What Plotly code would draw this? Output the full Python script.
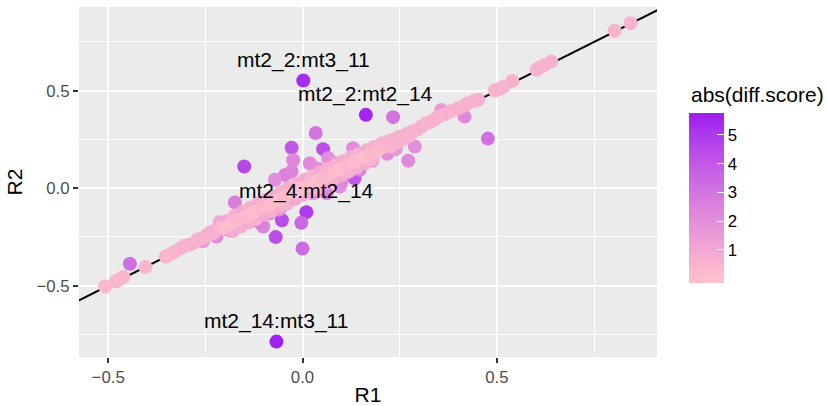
import numpy as np
import plotly.graph_objects as go

# ---------------- data ----------------
# strongly / moderately off-diagonal points (purple)
off_r1 = [0.002, 0.163, -0.067, 0.010, -0.150, -0.444, 0.034, -0.028,
          0.053, -0.003, -0.069, -0.053, 0.000, 0.477, 0.134, 0.233]
off_r2 = [0.552, 0.376, -0.787, -0.123, 0.111, -0.388, 0.283, 0.207,
          0.200, -0.178, -0.251, -0.165, -0.310, 0.254, 0.051, 0.364]
off_score = [5.3, 5.5, 5.6, 5.0, 4.5, 3.2, 3.0, 4.0,
             4.3, 3.5, 4.3, 4.4, 3.3, 3.1, 4.0, 3.0]

# light purple halo around the diagonal band
halo_r1 = [0.417, 0.357, 0.272, 0.289, 0.218, 0.130, 0.173, 0.147,
           0.066, 0.019, -0.024, -0.045, -0.028, -0.071, -0.174, -0.127,
           -0.101, -0.136, 0.027, 0.062, 0.096, -0.221, -0.256, -0.110,
           -0.085, -0.160, -0.190, 0.100, 0.080, 0.040, -0.060, 0.180,
           0.240, -0.040, 0.113]
halo_r2 = [0.367, 0.401, 0.141, 0.213, 0.176, 0.205, 0.196, 0.094,
           0.154, 0.128, 0.143, 0.068, 0.085, 0.043, -0.073, -0.163,
           -0.197, -0.111, -0.026, -0.026, 0.008, -0.248, -0.272, -0.175,
           -0.130, -0.190, -0.215, 0.030, 0.130, 0.100, -0.110, 0.140,
           0.200, -0.080, 0.077]
halo_score = [2.2, 1.6, 2.2, 2.0, 2.1, 2.0, 1.4, 2.5,
              2.0, 2.1, 2.3, 2.5, 2.4, 2.0, 2.6, 2.0,
              2.4, 1.8, 2.0, 2.4, 2.0, 2.0, 1.5, 2.6,
              2.0, 1.8, 1.7, 2.2, 1.8, 1.9, 1.9, 1.8,
              1.6, 1.6, 2.0]

# outer rows of the pink band
edge_r1 = [-0.195, -0.175, -0.155, -0.135, -0.115, -0.095, -0.075, -0.055,
           -0.035, -0.015, 0.005, 0.025, 0.045, 0.065, 0.085, 0.105,
           0.125, 0.145, 0.165, 0.185, 0.205,
           -0.180, -0.160, -0.140, -0.120, -0.100, -0.080, -0.060, -0.040,
           -0.020, 0.000, 0.020, 0.040, 0.060, 0.080, 0.100, 0.120,
           0.140, 0.160, 0.180]
edge_r2 = [-0.170, -0.142, -0.122, -0.100, -0.080, -0.060, -0.040, -0.018,
           0.002, 0.022, 0.042, 0.060, 0.080, 0.100, 0.118, 0.138,
           0.158, 0.175, 0.193, 0.212, 0.230,
           -0.220, -0.198, -0.178, -0.158, -0.138, -0.116, -0.096, -0.076,
           -0.056, -0.036, -0.014, 0.004, 0.026, 0.046, 0.066, 0.086,
           0.106, 0.128, 0.148]
edge_score = [0.8, 0.7, 0.9, 0.6, 0.8, 0.7, 0.9, 0.6,
              0.8, 0.7, 0.9, 0.6, 0.8, 0.7, 0.6, 0.8,
              0.7, 0.6, 0.8, 0.7, 0.6,
              0.9, 0.7, 0.8, 0.6, 0.9, 0.7, 0.8, 0.6,
              0.9, 0.7, 0.8, 0.6, 0.9, 0.7, 0.8, 0.6,
              0.7, 0.8, 0.6]

# pink points on the diagonal
diag_r1 = [-0.508, -0.480, -0.472, -0.461, -0.404, -0.352, -0.338, -0.328,
           -0.312, -0.303, -0.290, -0.281, -0.270, -0.260, -0.248, -0.238,
           -0.230, -0.222, -0.213, -0.212,
           -0.205, -0.185, -0.165, -0.145, -0.125, -0.105, -0.085, -0.065,
           -0.045, -0.025, -0.005, 0.015, 0.035, 0.055, 0.075, 0.095,
           0.115, 0.135, 0.155, 0.175, 0.195, 0.215,
           0.220, 0.226, 0.235, 0.242, 0.250, 0.258, 0.268, 0.276,
           0.284, 0.295, 0.306, 0.319, 0.330, 0.340, 0.349, 0.365,
           0.379, 0.390, 0.400, 0.415, 0.426, 0.440, 0.452, 0.495,
           0.507, 0.518, 0.540, 0.602, 0.612, 0.623, 0.640, 0.803,
           0.844]
diag_r2 = [-0.505, -0.478, -0.470, -0.456, -0.405, -0.351, -0.337, -0.325,
           -0.306, -0.296, -0.290, -0.282, -0.265, -0.258, -0.245, -0.228,
           -0.232, -0.215, -0.175, -0.205,
           -0.203, -0.186, -0.163, -0.146, -0.124, -0.103, -0.087, -0.064,
           -0.046, -0.024, -0.004, 0.016, 0.034, 0.056, 0.074, 0.096,
           0.114, 0.136, 0.154, 0.176, 0.194, 0.216,
           0.239, 0.215, 0.250, 0.232, 0.265, 0.250, 0.278, 0.268,
           0.292, 0.300, 0.316, 0.333, 0.340, 0.352, 0.367, 0.378,
           0.393, 0.400, 0.410, 0.422, 0.436, 0.445, 0.453, 0.501,
           0.510, 0.521, 0.550, 0.607, 0.620, 0.632, 0.649, 0.807,
           0.846]
diag_score = [0.3, 0.5, 0.4, 0.5, 0.4, 0.5, 0.4, 0.5,
              0.5, 0.6, 0.5, 0.6, 0.5, 0.6, 0.5, 0.7,
              0.6, 0.7, 1.0, 0.5,
              0.2, 0.1, 0.3, 0.2, 0.1, 0.3, 0.2, 0.1,
              0.3, 0.2, 0.0, 0.2, 0.1, 0.3, 0.2, 0.1,
              0.3, 0.2, 0.1, 0.3, 0.2, 0.3,
              0.6, 0.5, 0.6, 0.5, 0.6, 0.5, 0.6, 0.5,
              0.6, 0.5, 0.6, 0.5, 0.6, 0.5, 0.6, 0.5,
              0.6, 0.5, 0.6, 0.5, 0.6, 0.5, 0.6, 0.5,
              0.6, 0.5, 0.6, 0.5, 0.6, 0.5, 0.6, 0.5,
              0.5]

label_text = ["mt2_2:mt3_11", "mt2_2:mt2_14", "mt2_4:mt2_14", "mt2_14:mt3_11"]
label_r1 = [0.002, 0.163, 0.010, -0.067]
label_r2 = [0.552, 0.376, -0.123, -0.787]

x_tickvals = [-0.5, 0.0, 0.5]
x_ticktext = ["\u22120.5", "0.0", "0.5"]
y_tickvals = [-0.5, 0.0, 0.5]
y_ticktext = ["\u22120.5", "0.0", "0.5"]
cbar_ticks = [1, 2, 3, 4, 5]
cbar_title = "abs(diff.score)"

# ---------------- colour scale: pink -> purple interpolated in Lab ----------------
def srgb_to_lab(rgb):
    c = np.array(rgb, dtype=float) / 255.0
    c = np.where(c <= 0.04045, c / 12.92, ((c + 0.055) / 1.055) ** 2.4)
    M = np.array([[0.4124564, 0.3575761, 0.1804375],
                  [0.2126729, 0.7151522, 0.0721750],
                  [0.0193339, 0.1191920, 0.9503041]])
    xyz = M @ c / np.array([0.95047, 1.0, 1.08883])
    f = np.where(xyz > 216 / 24389, np.cbrt(xyz), (24389 / 27 * xyz + 16) / 116)
    return np.array([116 * f[1] - 16, 500 * (f[0] - f[1]), 200 * (f[1] - f[2])])


def lab_to_srgb(lab):
    L, a, b = lab
    fy = (L + 16) / 116
    fx = fy + a / 500
    fz = fy - b / 200
    f = np.array([fx, fy, fz])
    xyz = np.where(f ** 3 > 216 / 24389, f ** 3, (116 * f - 16) / (24389 / 27))
    xyz = xyz * np.array([0.95047, 1.0, 1.08883])
    Minv = np.array([[3.2404542, -1.5371385, -0.4985314],
                     [-0.9692660, 1.8760108, 0.0415560],
                     [0.0556434, -0.2040259, 1.0572252]])
    c = Minv @ xyz
    c = np.clip(c, 0, 1)
    c = np.where(c <= 0.0031308, 12.92 * c, 1.055 * c ** (1 / 2.4) - 0.055)
    r, g, bb = np.round(np.clip(c, 0, 1) * 255).astype(int)
    return f"rgb({r},{g},{bb})"


low_lab = srgb_to_lab((255, 192, 203))   # pink
high_lab = srgb_to_lab((160, 32, 240))   # purple

all_scores = off_score + halo_score + edge_score + diag_score
smin, smax = min(all_scores), max(all_scores)
cmin, cmax = -0.158, 5.755   # colour bar span (ggplot bar includes half-bin padding)
colorscale = []
for v in np.linspace(cmin, cmax, 41):
    t = float(np.clip((v - smin) / (smax - smin), 0, 1))
    colorscale.append([(v - cmin) / (cmax - cmin), lab_to_srgb(low_lab + t * (high_lab - low_lab))])

# ---------------- figure ----------------
FONT = "Liberation Sans, Arial, Helvetica, sans-serif"
W, H = 827, 406
ML, MR, MT, MB = 79, 170, 7, 49
PW, PH = W - ML - MR, H - MT - MB
x_range = [-0.575, 0.912]
y_range = [-0.866, 0.929]

fig = go.Figure()

# y = x reference line
fig.add_trace(go.Scatter(
    x=[-2, 2], y=[-2, 2], mode="lines",
    line=dict(color="black", width=2), hoverinfo="skip", showlegend=False))

# points, drawn in order: off-diagonal, halo, band edges, diagonal
pts_r1 = off_r1 + halo_r1 + edge_r1 + diag_r1
pts_r2 = off_r2 + halo_r2 + edge_r2 + diag_r2
fig.add_trace(go.Scatter(
    x=pts_r1, y=pts_r2, mode="markers",
    marker=dict(size=14, color=all_scores, coloraxis="coloraxis", line=dict(width=0)),
    showlegend=False))

for txt, xv, yv in zip(label_text, label_r1, label_r2):
    fig.add_annotation(x=xv, y=yv, text=txt, showarrow=False, yshift=21,
                       font=dict(family=FONT, size=21, color="black"))

# colour bar title
fig.add_annotation(xref="paper", yref="paper",
                   x=(689 - ML) / PW, y=(H - MB - 94) / PH,
                   xanchor="left", yanchor="middle", showarrow=False,
                   text=cbar_title, font=dict(family=FONT, size=21, color="black"))

axis_common = dict(
    showgrid=True, gridcolor="white", gridwidth=2,
    zeroline=False, showline=False, automargin=False,
    ticks="outside", ticklen=5, tickwidth=1.5, tickcolor="#333333",
    tickfont=dict(family=FONT, size=16.8, color="#4D4D4D"),
    minor=dict(dtick=0.25, tick0=0, showgrid=True, gridcolor="white", gridwidth=1, ticks=""),
)

fig.update_layout(
    width=W, height=H,
    margin=dict(l=ML, r=MR, t=MT, b=MB, autoexpand=False),
    paper_bgcolor="white", plot_bgcolor="#EBEBEB",
    font=dict(family=FONT, color="black"),
    xaxis=dict(range=x_range, tickvals=x_tickvals, ticktext=x_ticktext,
               title=dict(text="R1", font=dict(family=FONT, size=21, color="black"), standoff=4),
               **axis_common),
    yaxis=dict(range=y_range, tickvals=y_tickvals, ticktext=y_ticktext,
               title=dict(text="R2", font=dict(family=FONT, size=21, color="black"), standoff=8),
               **axis_common),
    coloraxis=dict(
        cmin=cmin, cmax=cmax, colorscale=colorscale,
        colorbar=dict(
            thickness=35, thicknessmode="pixels",
            len=170, lenmode="pixels",
            xref="container", x=689 / W, xanchor="left",
            yref="container", y=1 - 131.3 / H, yanchor="top",
            tickvals=cbar_ticks, ticks="inside", ticklen=7, tickwidth=1.2,
            tickcolor="white", tickprefix=" ",
            tickfont=dict(family=FONT, size=16.8, color="black"),
            outlinewidth=0, xpad=0, ypad=0,
        ),
    ),
)

fig.write_html("out.html",
               config={"displayModeBar": False},
               post_script="document.body.style.margin='0';document.body.style.overflow='hidden';")
